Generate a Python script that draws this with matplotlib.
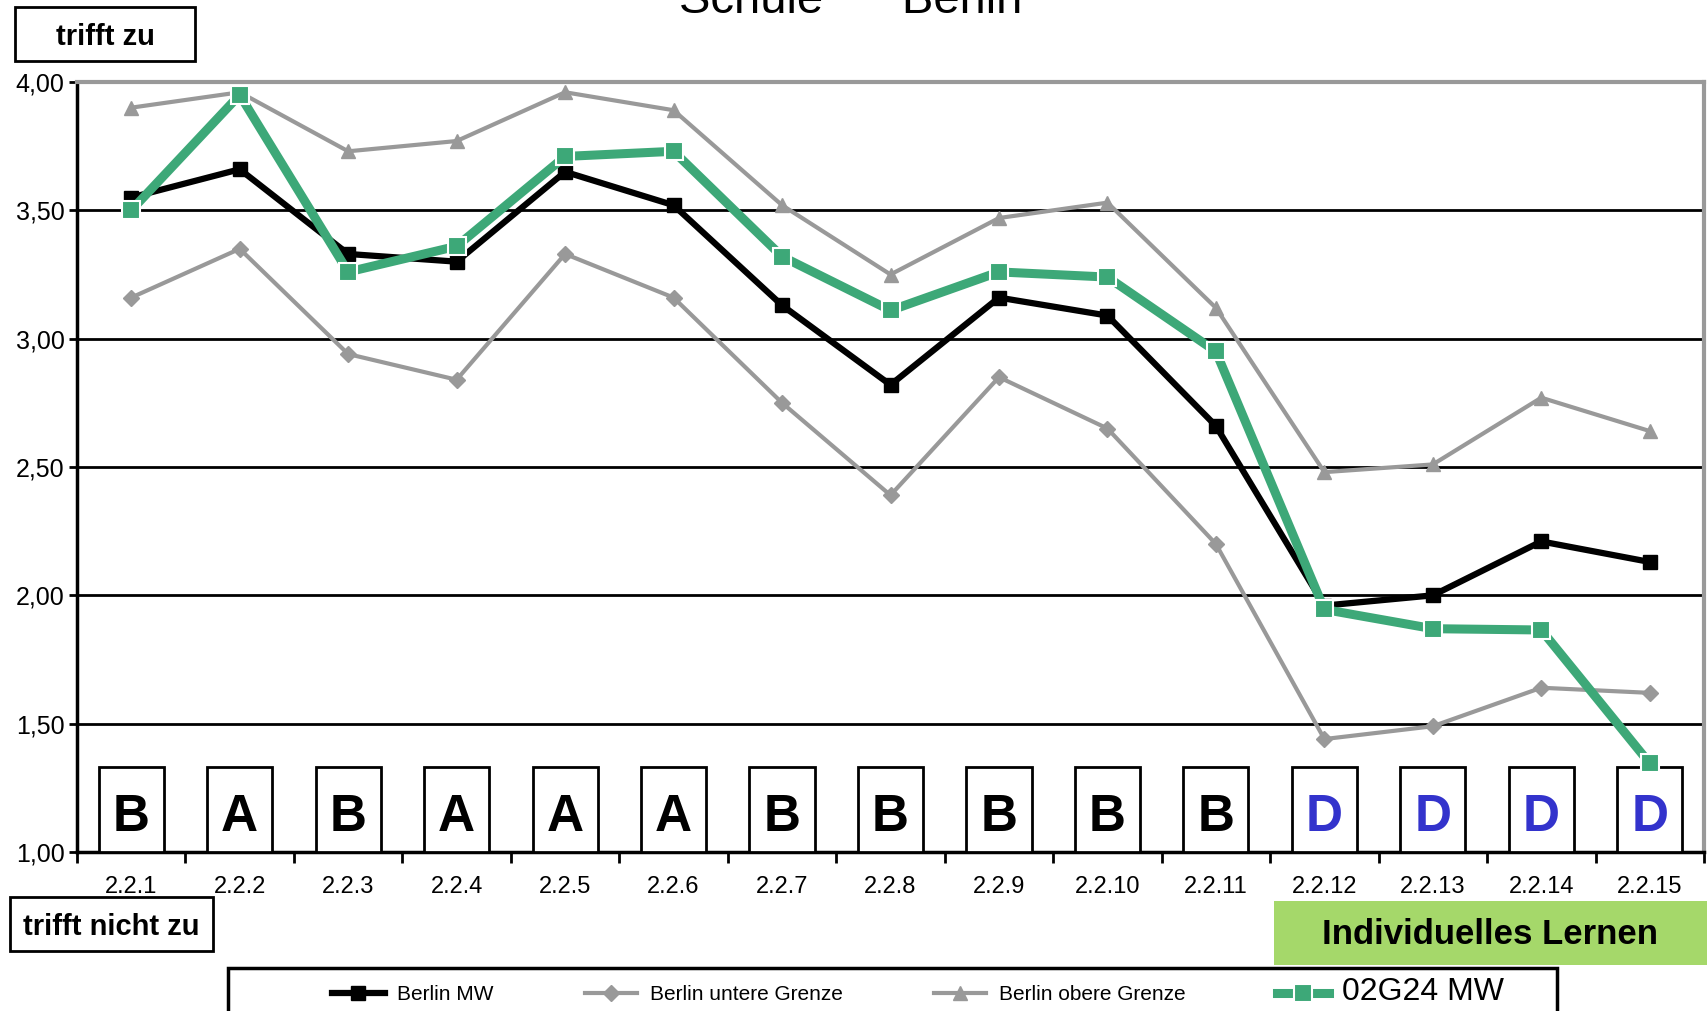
# -*- coding: utf-8 -*-
"""
Schule / Berlin: Mittelwerte je Item mit Berliner Grenzen.
"""

import numpy as np
import matplotlib
matplotlib.use("Agg")
import matplotlib.pyplot as plt
from matplotlib.patches import Rectangle

plt.rcParams['font.family'] = ['Liberation Sans', 'DejaVu Sans']

# --- Daten ---
items = ['2.2.1', '2.2.2', '2.2.3', '2.2.4', '2.2.5', '2.2.6', '2.2.7', '2.2.8',
         '2.2.9', '2.2.10', '2.2.11', '2.2.12', '2.2.13', '2.2.14', '2.2.15']
berlin_mw = [3.55, 3.66, 3.33, 3.30, 3.65, 3.52, 3.13, 2.82,
             3.16, 3.09, 2.66, 1.96, 2.00, 2.21, 2.13]
berlin_unten = [3.16, 3.35, 2.94, 2.84, 3.33, 3.16, 2.75, 2.39,
                2.85, 2.65, 2.20, 1.44, 1.49, 1.64, 1.62]
berlin_oben = [3.90, 3.96, 3.73, 3.77, 3.96, 3.89, 3.52, 3.25,
               3.47, 3.53, 3.12, 2.48, 2.51, 2.77, 2.64]
schule_mw = [3.50, 3.95, 3.26, 3.36, 3.71, 3.73, 3.32, 3.11,
             3.26, 3.24, 2.95, 1.945, 1.87, 1.865, 1.345]
bereiche = ['B', 'A', 'B', 'A', 'A', 'A', 'B', 'B', 'B', 'B', 'B', 'D', 'D', 'D', 'D']
y_ticks = [1.0, 1.5, 2.0, 2.5, 3.0, 3.5, 4.0]
y_labels = ['1,00', '1,50', '2,00', '2,50', '3,00', '3,50', '4,00']

GREEN = '#3DA878'
GRAY = '#999999'
BLUE = '#3333CC'

W, H = 1707, 1011
fig = plt.figure(figsize=(W / 100, H / 100), dpi=100)
ax = fig.add_axes([77 / W, 1 - 852 / H, (1704 - 77) / W, (852 - 82) / H])

x = np.arange(len(items))

ax.plot(x, berlin_unten, color=GRAY, lw=3, marker='D', ms=8, zorder=4,
        label='Berlin untere Grenze')
ax.plot(x, berlin_oben, color=GRAY, lw=3, marker='^', ms=10, zorder=4,
        label='Berlin obere Grenze')
ax.plot(x, berlin_mw, color='black', lw=4.5, marker='s', ms=10, zorder=5,
        label='Berlin MW')
ax.plot(x, schule_mw, color=GREEN, lw=6.5, marker='s', ms=13, mec='white',
        mew=1.5, zorder=6, label='02G24 MW')

# Kaestchen mit Buchstaben
for xi, b in zip(x, bereiche):
    ax.add_patch(Rectangle((xi - 0.3, 1.0), 0.6, 0.33, facecolor='white',
                           edgecolor='black', lw=2, zorder=3, clip_on=False))
    ax.text(xi, 1.135, b, ha='center', va='center', fontsize=37,
            fontweight='bold', color=BLUE if b == 'D' else 'black', zorder=3.5)

ax.set_xlim(-0.5, len(items) - 0.5)
ax.set_ylim(1.0, 4.0)
ax.set_yticks(y_ticks)
ax.set_yticklabels(y_labels, fontsize=18)
ax.yaxis.grid(True, color='black', lw=2)
ax.set_axisbelow(True)

ax.set_xticks(np.arange(-0.5, len(items), 1.0))
ax.set_xticklabels([])
ax.set_xticks(x, minor=True)
ax.set_xticklabels(items, minor=True, fontsize=17)
ax.tick_params(axis='x', which='major', direction='out', length=8, width=2)
ax.tick_params(axis='x', which='minor', length=0, pad=17)
ax.tick_params(axis='y', direction='out', length=6, width=2, pad=3)

for side in ['left', 'bottom']:
    ax.spines[side].set_color('black')
    ax.spines[side].set_linewidth(2.5)
for side in ['top', 'right']:
    ax.spines[side].set_color(GRAY)
    ax.spines[side].set_linewidth(3)

# Titel (oben abgeschnitten wie im Original)
fig.text(851 / W, 1 - 13 / H, 'Schule      Berlin', fontsize=34,
         ha='center', va='baseline')

# Beschriftungskaesten
fig.patches.append(Rectangle((15 / W, 1 - 61 / H), 180 / W, 54 / H,
                             transform=fig.transFigure, facecolor='white',
                             edgecolor='black', lw=2))
fig.text(105 / W, 1 - 37 / H, 'trifft zu', fontsize=21, fontweight='bold',
         ha='center', va='center')
fig.patches.append(Rectangle((10 / W, 1 - 951 / H), 203 / W, 54 / H,
                             transform=fig.transFigure, facecolor='white',
                             edgecolor='black', lw=2))
fig.text(111 / W, 1 - 927 / H, 'trifft nicht zu', fontsize=21,
         fontweight='bold', ha='center', va='center')
fig.patches.append(Rectangle((1274 / W, 1 - 965 / H), 433 / W, 64 / H,
                             transform=fig.transFigure, facecolor='#A5D86A',
                             edgecolor='none'))
fig.text(1490 / W, 1 - 934 / H, 'Individuelles Lernen', fontsize=25,
         fontweight='bold', ha='center', va='center')

# Legende
fig.patches.append(Rectangle((228 / W, -0.02), (1557 - 228) / W, 0.02 + 43 / H,
                             transform=fig.transFigure, facecolor='white',
                             edgecolor='black', lw=2.5))
handles, labels = ax.get_legend_handles_labels()
order = [2, 0, 1, 3]
leg = fig.legend([handles[i] for i in order], [labels[i] for i in order],
                 loc='center left', bbox_to_anchor=(322 / W, 1 - 992 / H),
                 ncol=4, frameon=False, fontsize=15, handlelength=2.5,
                 columnspacing=4.4, borderpad=0, handletextpad=0.6)
leg.get_texts()[3].set_fontsize(23)

fig.savefig('out.png', dpi=100)
